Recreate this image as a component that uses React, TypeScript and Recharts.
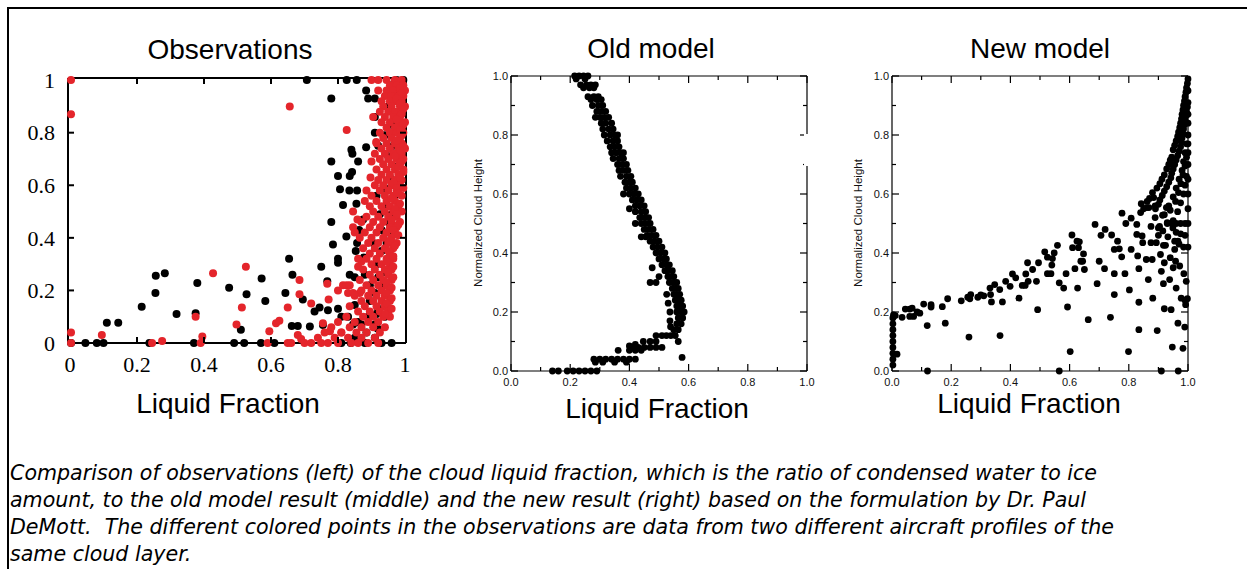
import { ScatterChart, Scatter, XAxis, YAxis } from "recharts";

type Pt = [number, number];

// observations, two aircraft profiles (liquid fraction, normalized height)
const obsBlack: Pt[] = [
  [0.707, 1.0], [0.826, 1.0], [0.856, 1.0], [0.975, 1.0], [0.995, 1.0], [0.78, 0.93], [0.884, 0.96],
  [0.89, 0.93], [0.91, 0.93], [0.91, 0.86], [0.91, 0.8], [0.884, 0.745], [0.84, 0.735], [0.843, 0.72],
  [0.78, 0.69], [0.86, 0.69], [0.8, 0.635], [0.835, 0.635], [0.842, 0.65], [0.806, 0.585], [0.834, 0.58],
  [0.857, 0.58], [0.815, 0.525], [0.855, 0.53], [0.78, 0.46], [0.875, 0.47], [0.863, 0.43], [0.785, 0.375],
  [0.825, 0.405], [0.857, 0.38], [0.853, 0.35], [0.8, 0.32], [0.8, 0.305], [0.877, 0.325], [0.654, 0.32],
  [0.664, 0.26], [0.75, 0.29], [0.768, 0.235], [0.835, 0.26], [0.85, 0.25], [0.88, 0.26], [0.643, 0.19],
  [0.695, 0.165], [0.73, 0.12], [0.745, 0.135], [0.77, 0.125], [0.8, 0.13], [0.85, 0.145], [0.662, 0.065],
  [0.68, 0.065], [0.716, 0.063], [0.755, 0.068], [0.81, 0.1], [0.83, 0.1], [0.845, 0.07], [0.86, 0.08],
  [0.81, 0.0], [0.838, 0.0], [0.85, 0.02], [0.915, 0.11], [0.918, 0.055],
  [0.003, 0], [0.046, 0], [0.08, 0], [0.1, 0], [0.11, 0.077], [0.144, 0.077], [0.214, 0.138], [0.255, 0.19],
  [0.256, 0.256], [0.283, 0.265], [0.318, 0.11], [0.375, 0.113], [0.38, 0.228], [0.37, 0], [0.237, 0],
  [0.475, 0.21], [0.49, 0], [0.51, 0.05], [0.527, 0.185], [0.52, 0.0], [0.572, 0.245], [0.583, 0.16],
  [0.57, 0], [0.61, 0],
  [0.96, 0.98], [0.985, 0.98], [0.97, 0.95], [0.95, 0.9], [0.995, 0.9], [0.975, 0.87], [0.96, 0.83],
  [0.94, 0.79], [0.99, 0.79], [0.92, 0.75], [0.965, 0.75], [0.95, 0.71], [0.975, 0.67], [0.955, 0.63],
  [0.94, 0.59], [0.915, 0.56], [0.97, 0.56], [0.945, 0.52], [0.925, 0.49], [0.96, 0.49], [0.95, 0.46],
  [0.93, 0.43], [0.96, 0.41], [0.905, 0.38], [0.945, 0.38], [0.93, 0.35], [0.955, 0.33], [0.915, 0.3],
  [0.94, 0.27], [0.92, 0.25], [0.895, 0.22], [0.935, 0.22], [0.91, 0.19], [0.895, 0.16], [0.92, 0.13],
  [0.89, 0.1], [0.94, 0.1], [0.87, 0.07], [0.91, 0.07], [0.885, 0.04], [0.88, 0.0], [0.93, 0.0],
  [0.96, 0.0], [0.91, 0.02],
];

const obsRed: Pt[] = [
  [0.003, 1.0], [0.003, 0.87], [0.003, 0.04], [0.003, 0.0], [0.095, 0.03], [0.245, 0.0], [0.275, 0.008],
  [0.375, 0.1], [0.395, 0.025], [0.39, 0], [0.427, 0.265], [0.525, 0.29], [0.513, 0.135], [0.497, 0.07],
  [0.595, 0.045], [0.59, 0], [0.615, 0.075], [0.625, 0.085], [0.656, 0.9], [0.826, 0.81], [0.65, 0.135],
  [0.685, 0.24], [0.685, 0.185], [0.72, 0.15], [0.65, 0.0], [0.66, 0.0], [0.68, 0.03], [0.69, 0.015],
  [0.768, 0.225], [0.772, 0.165], [0.776, 0.045], [0.755, 0.075], [0.81, 0.04], [0.815, 0.22],
  [0.826, 0.22], [0.8, 0.2], [0.83, 0.19], [0.845, 0.19], [0.865, 0.19], [0.845, 0.5], [0.858, 0.47],
  [0.845, 0.44], [0.85, 0.42], [0.86, 0.29], [0.87, 0.31], [0.9, 0.69], [0.897, 0.63], [0.91, 0.72],
  [0.914, 0.765], [0.92, 0.96],
  [0.9, 1.0], [0.92, 1.0], [0.945, 1.0], [0.97, 1.0], [0.99, 1.0],
  [0.955, 0.98], [0.975, 0.98], [0.995, 0.98],
  [0.945, 0.96], [0.965, 0.96], [0.985, 0.96], [1.0, 0.96],
  [0.94, 0.94], [0.96, 0.94], [0.98, 0.94], [0.995, 0.94],
  [0.93, 0.92], [0.955, 0.92], [0.975, 0.92], [0.99, 0.92],
  [0.935, 0.9], [0.96, 0.9], [0.985, 0.9], [1.0, 0.9],
  [0.925, 0.88], [0.95, 0.88], [0.97, 0.88], [0.99, 0.88],
  [0.905, 0.86], [0.94, 0.86], [0.965, 0.86], [0.985, 0.86],
  [0.93, 0.84], [0.955, 0.84], [0.98, 0.84], [1.0, 0.84],
  [0.945, 0.82], [0.97, 0.82], [0.99, 0.82],
  [0.925, 0.8], [0.955, 0.8], [0.975, 0.8], [0.995, 0.8],
  [0.935, 0.78], [0.96, 0.78], [0.985, 0.78],
  [0.915, 0.76], [0.945, 0.76], [0.97, 0.76], [0.99, 0.76],
  [0.93, 0.74], [0.955, 0.74], [0.98, 0.74], [1.0, 0.74],
  [0.94, 0.72], [0.965, 0.72], [0.99, 0.72],
  [0.925, 0.7], [0.95, 0.7], [0.975, 0.7], [0.995, 0.7],
  [0.935, 0.68], [0.96, 0.68], [0.985, 0.68],
  [0.915, 0.66], [0.945, 0.66], [0.97, 0.66], [0.995, 0.66],
  [0.93, 0.64], [0.955, 0.64], [0.98, 0.64],
  [0.92, 0.62], [0.945, 0.62], [0.97, 0.62], [0.99, 0.62],
  [0.91, 0.6], [0.935, 0.6], [0.96, 0.6], [0.985, 0.6],
  [0.885, 0.58], [0.925, 0.58], [0.95, 0.58], [0.975, 0.58],
  [0.9, 0.56], [0.94, 0.56], [0.965, 0.56], [0.99, 0.56],
  [0.88, 0.54], [0.915, 0.54], [0.945, 0.54], [0.97, 0.54],
  [0.895, 0.52], [0.93, 0.52], [0.955, 0.52], [0.98, 0.52],
  [0.905, 0.5], [0.94, 0.5], [0.965, 0.5], [0.99, 0.5],
  [0.885, 0.48], [0.92, 0.48], [0.95, 0.48], [0.975, 0.48],
  [0.87, 0.46], [0.905, 0.46], [0.935, 0.46], [0.96, 0.46], [0.985, 0.46],
  [0.895, 0.44], [0.925, 0.44], [0.955, 0.44], [0.975, 0.44],
  [0.88, 0.42], [0.915, 0.42], [0.945, 0.42], [0.97, 0.42],
  [0.865, 0.4], [0.9, 0.4], [0.935, 0.4], [0.96, 0.4],
  [0.89, 0.38], [0.92, 0.38], [0.95, 0.38], [0.975, 0.38],
  [0.875, 0.36], [0.91, 0.36], [0.94, 0.36], [0.965, 0.36],
  [0.895, 0.34], [0.925, 0.34], [0.955, 0.34],
  [0.86, 0.32], [0.885, 0.32], [0.915, 0.32], [0.945, 0.32], [0.965, 0.32],
  [0.9, 0.3], [0.93, 0.3], [0.955, 0.3],
  [0.875, 0.28], [0.91, 0.28], [0.94, 0.28], [0.96, 0.28],
  [0.895, 0.26], [0.925, 0.26], [0.95, 0.26],
  [0.865, 0.24], [0.905, 0.24], [0.935, 0.24], [0.96, 0.24],
  [0.835, 0.22], [0.885, 0.22], [0.92, 0.22], [0.945, 0.22],
  [0.87, 0.2], [0.9, 0.2], [0.93, 0.2], [0.955, 0.2],
  [0.85, 0.18], [0.89, 0.18], [0.915, 0.18], [0.94, 0.18],
  [0.87, 0.16], [0.905, 0.16], [0.93, 0.16], [0.955, 0.16],
  [0.835, 0.14], [0.88, 0.14], [0.915, 0.14], [0.94, 0.14],
  [0.86, 0.12], [0.895, 0.12], [0.925, 0.12], [0.95, 0.12],
  [0.825, 0.1], [0.875, 0.1], [0.905, 0.1], [0.935, 0.1], [0.955, 0.1],
  [0.8, 0.08], [0.85, 0.08], [0.89, 0.08], [0.92, 0.08],
  [0.78, 0.06], [0.835, 0.06], [0.87, 0.06], [0.905, 0.06], [0.94, 0.06],
  [0.76, 0.04], [0.81, 0.04], [0.855, 0.04], [0.885, 0.04], [0.925, 0.04],
  [0.74, 0.02], [0.79, 0.02], [0.83, 0.02], [0.87, 0.02], [0.91, 0.02],
  [0.7, 0.0], [0.72, 0.0], [0.75, 0.0], [0.77, 0.0], [0.8, 0.0], [0.84, 0.0], [0.86, 0.0], [0.89, 0.0], [0.92, 0.0],
  [0.985, 0.97], [0.99, 0.95], [0.975, 0.93], [0.985, 0.91], [0.995, 0.89], [0.99, 0.87], [0.975, 0.85],
  [0.995, 0.83], [0.985, 0.81], [0.99, 0.79], [0.975, 0.77], [0.995, 0.75], [0.985, 0.73], [0.97, 0.71],
  [0.99, 0.69], [0.98, 0.67], [0.995, 0.65], [0.985, 0.63], [0.965, 0.61], [0.975, 0.59], [0.995, 0.59],
  [0.98, 0.57], [0.96, 0.55], [0.985, 0.53], [0.97, 0.51], [0.975, 0.49], [0.96, 0.47], [0.98, 0.45],
  [0.965, 0.43], [0.98, 0.41], [0.955, 0.39], [0.97, 0.37], [0.95, 0.35], [0.965, 0.33], [0.945, 0.31],
  [0.965, 0.29], [0.95, 0.27], [0.965, 0.25], [0.945, 0.23], [0.96, 0.21], [0.945, 0.19], [0.96, 0.17],
  [0.945, 0.15], [0.96, 0.13], [0.94, 0.11],
];

// old model profile
const oldModel: Pt[] = [
  [0.215, 1.0], [0.23, 1.0], [0.245, 1.0], [0.26, 1.0], [0.22, 0.99], [0.25, 0.99],
  [0.235, 0.97], [0.255, 0.97], [0.27, 0.97], [0.285, 0.97], [0.245, 0.96], [0.265, 0.96], [0.28, 0.96],
  [0.26, 0.93], [0.28, 0.93], [0.295, 0.93], [0.27, 0.92], [0.29, 0.92], [0.305, 0.92],
  [0.275, 0.9], [0.295, 0.9], [0.31, 0.9], [0.29, 0.88], [0.305, 0.88], [0.32, 0.88],
  [0.285, 0.86], [0.3, 0.86], [0.315, 0.86], [0.33, 0.86], [0.305, 0.84], [0.32, 0.84], [0.34, 0.84],
  [0.31, 0.82], [0.33, 0.82], [0.345, 0.82], [0.315, 0.8], [0.335, 0.8], [0.35, 0.8], [0.36, 0.8],
  [0.325, 0.78], [0.345, 0.78], [0.36, 0.78], [0.335, 0.76], [0.35, 0.76], [0.365, 0.76],
  [0.34, 0.74], [0.355, 0.74], [0.37, 0.74], [0.38, 0.74], [0.345, 0.72], [0.365, 0.72], [0.38, 0.72],
  [0.36, 0.7], [0.375, 0.7], [0.39, 0.7], [0.365, 0.68], [0.38, 0.68], [0.395, 0.68],
  [0.37, 0.66], [0.39, 0.66], [0.405, 0.66], [0.385, 0.64], [0.4, 0.64], [0.41, 0.64],
  [0.39, 0.62], [0.405, 0.62], [0.42, 0.62], [0.38, 0.6], [0.4, 0.6], [0.415, 0.6], [0.43, 0.6],
  [0.41, 0.58], [0.425, 0.58], [0.44, 0.58], [0.42, 0.56], [0.435, 0.56], [0.45, 0.56],
  [0.4, 0.55], [0.42, 0.54], [0.44, 0.54], [0.455, 0.54], [0.435, 0.52], [0.45, 0.52], [0.465, 0.52],
  [0.42, 0.5], [0.44, 0.5], [0.455, 0.5], [0.47, 0.5], [0.45, 0.48], [0.465, 0.48], [0.48, 0.48],
  [0.44, 0.455], [0.455, 0.455], [0.46, 0.46], [0.475, 0.46], [0.49, 0.46], [0.47, 0.44], [0.485, 0.44],
  [0.5, 0.44], [0.48, 0.42], [0.495, 0.42], [0.51, 0.42], [0.49, 0.4], [0.505, 0.4], [0.52, 0.4],
  [0.5, 0.38], [0.515, 0.38], [0.525, 0.38], [0.51, 0.36], [0.525, 0.36], [0.535, 0.36],
  [0.477, 0.35], [0.52, 0.34], [0.53, 0.34], [0.545, 0.34], [0.5, 0.32], [0.53, 0.32], [0.54, 0.32],
  [0.55, 0.32], [0.47, 0.3], [0.49, 0.3], [0.535, 0.3], [0.55, 0.3], [0.56, 0.3],
  [0.545, 0.28], [0.555, 0.28], [0.565, 0.28], [0.526, 0.26], [0.55, 0.26], [0.56, 0.26], [0.57, 0.26],
  [0.555, 0.24], [0.565, 0.24], [0.575, 0.24], [0.531, 0.23], [0.56, 0.22], [0.57, 0.22], [0.58, 0.22],
  [0.537, 0.2], [0.56, 0.2], [0.575, 0.2], [0.585, 0.2], [0.565, 0.18], [0.58, 0.18], [0.537, 0.17],
  [0.56, 0.16], [0.575, 0.16], [0.539, 0.15], [0.55, 0.14], [0.565, 0.14],
  [0.49, 0.12], [0.51, 0.12], [0.525, 0.12], [0.54, 0.12], [0.555, 0.12],
  [0.47, 0.1], [0.49, 0.1], [0.447, 0.1], [0.565, 0.1], [0.42, 0.09], [0.4, 0.085],
  [0.41, 0.08], [0.43, 0.08], [0.45, 0.08], [0.47, 0.08], [0.49, 0.08], [0.51, 0.08],
  [0.362, 0.07], [0.4, 0.07], [0.42, 0.07], [0.44, 0.07], [0.578, 0.046],
  [0.28, 0.04], [0.3, 0.04], [0.32, 0.04], [0.34, 0.04], [0.36, 0.04], [0.38, 0.04], [0.4, 0.04], [0.42, 0.04],
  [0.285, 0.03], [0.31, 0.03], [0.35, 0.03], [0.39, 0.03],
  [0.14, 0.0], [0.16, 0.0], [0.19, 0.0], [0.21, 0.0], [0.23, 0.0], [0.25, 0.0], [0.27, 0.0], [0.29, 0.0],
];

// new model profile
const newModel: Pt[] = [
  [0.003, 0.02], [0.003, 0.04], [0.003, 0.06], [0.003, 0.08], [0.003, 0.1], [0.003, 0.12], [0.003, 0.14],
  [0.003, 0.16], [0.003, 0.18], [0.005, 0.19], [0.017, 0.057],
  [0.011, 0.188], [0.034, 0.182], [0.045, 0.21], [0.06, 0.21], [0.068, 0.213], [0.06, 0.185], [0.073, 0.185],
  [0.085, 0.2], [0.094, 0.196], [0.107, 0.227], [0.132, 0.225], [0.132, 0.217], [0.17, 0.218], [0.188, 0.245],
  [0.119, 0.154], [0.18, 0.162], [0.234, 0.238], [0.256, 0.25], [0.266, 0.259], [0.263, 0.245], [0.29, 0.25],
  [0.3, 0.258], [0.31, 0.255], [0.26, 0.115], [0.336, 0.234], [0.333, 0.259], [0.331, 0.281], [0.347, 0.293],
  [0.364, 0.276], [0.373, 0.234], [0.365, 0.12], [0.384, 0.304], [0.399, 0.287], [0.407, 0.329], [0.418, 0.316],
  [0.429, 0.247], [0.44, 0.29], [0.45, 0.29], [0.452, 0.329], [0.46, 0.304], [0.458, 0.367], [0.475, 0.344],
  [0.488, 0.304], [0.492, 0.208], [0.495, 0.367], [0.516, 0.404], [0.525, 0.386], [0.525, 0.33], [0.537, 0.33],
  [0.54, 0.359], [0.542, 0.381], [0.559, 0.426], [0.548, 0.4], [0.565, 0.299], [0.58, 0.281], [0.588, 0.33],
  [0.593, 0.217], [0.602, 0.066], [0.608, 0.461], [0.61, 0.418], [0.618, 0.347], [0.625, 0.44], [0.633, 0.438],
  [0.627, 0.281], [0.63, 0.418], [0.638, 0.372], [0.644, 0.372], [0.647, 0.397], [0.65, 0.344], [0.663, 0.174],
  [0.686, 0.497], [0.693, 0.296], [0.7, 0.372], [0.706, 0.46], [0.718, 0.347], [0.72, 0.48], [0.742, 0.461],
  [0.751, 0.412], [0.751, 0.33], [0.751, 0.259], [0.762, 0.44], [0.768, 0.414], [0.776, 0.387], [0.738, 0.182],
  [0.777, 0.535], [0.787, 0.33], [0.79, 0.5], [0.802, 0.275], [0.808, 0.518], [0.808, 0.412], [0.799, 0.066],
  [0.827, 0.497], [0.827, 0.463], [0.83, 0.39], [0.834, 0.347], [0.842, 0.567], [0.84, 0.537], [0.845, 0.458],
  [0.847, 0.435], [0.834, 0.233], [0.834, 0.14], [0.859, 0.378], [0.861, 0.554], [0.868, 0.554], [0.866, 0.31],
  [0.875, 0.49], [0.875, 0.435], [0.879, 0.378], [0.884, 0.588], [0.881, 0.247], [0.889, 0.56], [0.889, 0.52],
  [0.893, 0.435], [0.896, 0.137], [0.9, 0.485], [0.9, 0.46], [0.904, 0.49], [0.907, 0.395], [0.91, 0.338],
  [0.914, 0.528], [0.915, 0.475], [0.917, 0.426], [0.924, 0.426], [0.917, 0.296], [0.92, 0.367], [0.92, 0.211],
  [0.927, 0.554], [0.93, 0.503], [0.932, 0.455], [0.938, 0.31], [0.94, 0.384], [0.943, 0.208], [0.947, 0.081],
  [0.949, 0.485], [0.95, 0.35], [0.955, 0.412], [0.958, 0.372], [0.96, 0.281], [0.966, 0.162], [0.966, 0.44],
  [0.972, 0.356], [0.977, 0.247], [0.983, 0.077], [0.986, 0.33], [0.989, 0.149], [0.992, 0.225], [0.994, 0.304],
  [0.998, 0.245],
  [0.85, 0.55], [0.862, 0.575], [0.88, 0.605], [0.905, 0.635], [0.92, 0.665], [0.935, 0.7], [0.945, 0.725],
  [0.95, 0.75], [0.96, 0.78], [0.968, 0.81], [0.975, 0.84], [0.98, 0.87], [0.985, 0.9], [0.99, 0.93],
  [0.995, 0.96], [1.0, 0.99],
  [0.89, 0.55], [0.905, 0.58], [0.92, 0.61], [0.935, 0.64], [0.945, 0.67], [0.955, 0.7], [0.965, 0.73],
  [0.975, 0.76], [0.98, 0.79], [0.985, 0.82], [0.99, 0.85], [0.995, 0.88], [1.0, 0.91], [1.0, 0.95],
  [0.92, 0.53], [0.935, 0.56], [0.95, 0.59], [0.96, 0.62], [0.97, 0.65], [0.98, 0.68], [0.985, 0.71],
  [0.99, 0.74], [0.995, 0.77], [1.0, 0.8], [1.0, 0.84], [1.0, 0.87],
  [0.95, 0.51], [0.965, 0.54], [0.975, 0.57], [0.985, 0.6], [0.99, 0.63], [0.995, 0.66], [1.0, 0.7], [1.0, 0.74],
  [0.93, 0.5], [0.945, 0.5], [0.96, 0.5], [0.975, 0.5], [0.99, 0.5], [1.0, 0.5],
  [0.96, 0.47], [0.975, 0.465], [0.99, 0.46], [0.955, 0.44], [0.97, 0.43], [0.985, 0.42], [1.0, 0.42],
  [1.0, 0.55], [1.0, 0.6], [1.0, 0.65], [0.99, 0.24],
  [0.87, 0.585], [0.895, 0.62], [0.912, 0.65], [0.928, 0.685], [0.94, 0.715], [0.955, 0.765], [0.965, 0.795],
  [0.972, 0.825], [0.978, 0.855], [0.983, 0.885], [0.988, 0.915], [0.993, 0.945], [0.998, 0.975],
  [0.9, 0.565], [0.913, 0.595], [0.928, 0.625], [0.942, 0.655], [0.95, 0.685], [0.96, 0.715], [0.97, 0.745],
  [0.978, 0.775], [0.983, 0.805], [0.988, 0.835], [0.993, 0.865], [0.998, 0.895],
  [0.94, 0.545], [0.958, 0.575], [0.968, 0.605], [0.976, 0.635], [0.983, 0.665], [0.99, 0.695], [0.995, 0.725],
  [1.0, 0.77],
  [0.12, 0.0], [0.565, 0.0], [0.91, 0.0], [0.967, 0.0],
];

const obsTicks = [0, 0.2, 0.4, 0.6, 0.8, 1];
const modelTicks = [0, 0.1, 0.2, 0.3, 0.4, 0.5, 0.6, 0.7, 0.8, 0.9, 1];

const caption = [
  "Comparison of observations (left) of the cloud liquid fraction, which is the ratio of condensed water to ice",
  "amount, to the old model result (middle) and the new result (right) based on the formulation by Dr. Paul",
  "DeMott.  The different colored points in the observations are data from two different aircraft profiles of the",
  "same cloud layer.",
];

const rows = (pts: Pt[]) => pts.map(([x, y]) => ({ x, y }));
const dot = (r: number, fill: string) => (p: any) => <circle cx={p.cx} cy={p.cy} r={r} fill={fill} />;

const SANS = "'Liberation Sans', Arial, Helvetica, sans-serif";

type Box = { left: number; right: number; top: number; bottom: number };
type TickStyle = {
  font: Record<string, any>;
  sw: number;
  len: (v: number) => number;
  label: (v: number) => string | null;
};

// draws inward tick marks on both opposite sides plus the label
const yTick = (box: Box, s: TickStyle, gap: number) => (p: any) => {
  const v = p.payload.value as number;
  const y = p.y as number;
  const L = s.len(v);
  const t = s.label(v);
  return (
    <g>
      {L > 0 && <line x1={box.left} x2={box.left + L} y1={y} y2={y} stroke="#000" strokeWidth={s.sw} />}
      {L > 0 && <line x1={box.right - L} x2={box.right} y1={y} y2={y} stroke="#000" strokeWidth={s.sw} />}
      {t !== null && (
        <text x={box.left - gap} y={y} dy="0.355em" textAnchor="end" {...s.font}>{t}</text>
      )}
    </g>
  );
};

const xTick = (box: Box, s: TickStyle, gap: number) => (p: any) => {
  const v = p.payload.value as number;
  const x = p.x as number;
  const L = s.len(v);
  const t = s.label(v);
  return (
    <g>
      {L > 0 && <line x1={x} x2={x} y1={box.bottom} y2={box.bottom - L} stroke="#000" strokeWidth={s.sw} />}
      {L > 0 && <line x1={x} x2={x} y1={box.top} y2={box.top + L} stroke="#000" strokeWidth={s.sw} />}
      {t !== null && (
        <text x={x} y={box.bottom + gap} dy="0.71em" textAnchor="middle" {...s.font}>{t}</text>
      )}
    </g>
  );
};

function ObsPanel() {
  const W = 420, H = 430;
  const m = { top: 78, right: 14, bottom: 86, left: 67 };
  const box: Box = { left: m.left + 1, right: W - m.right, top: m.top, bottom: H - m.bottom - 1 };
  const line = { stroke: "#000", strokeWidth: 2 };
  const s: TickStyle = {
    font: { fontFamily: "'Liberation Serif', 'Times New Roman', serif", fontSize: 22, fill: "#000" },
    sw: 2,
    len: (v) => (v > 0 && v < 1 ? 6 : 0),
    label: (v) => String(v),
  };
  const xd: [number, number] = [-0.006, 1.003];
  const yd: [number, number] = [0, 1.008];
  return (
    <div style={{ position: "absolute", left: 0, top: 0 }}>
      <ScatterChart width={W} height={H} margin={m}>
        <XAxis xAxisId="b" type="number" dataKey="x" domain={xd} ticks={obsTicks} interval={0}
          tick={xTick(box, s, 13)} tickSize={0} tickMargin={13} axisLine={line} tickLine={false} height={1} />
        <YAxis yAxisId="l" type="number" dataKey="y" domain={yd} ticks={obsTicks} interval={0}
          tick={yTick(box, s, 13)} tickSize={0} tickMargin={13} axisLine={line} tickLine={false} width={1} />
        <XAxis xAxisId="t" mirror orientation="top" type="number" domain={xd} tick={false}
          axisLine={line} tickLine={false} height={1} allowDataOverflow />
        <YAxis yAxisId="r" mirror orientation="right" type="number" domain={yd} tick={false}
          axisLine={line} tickLine={false} width={1} allowDataOverflow />
        <Scatter xAxisId="b" yAxisId="l" data={rows(obsBlack)} shape={dot(4, "#000")} isAnimationActive={false} />
        <Scatter xAxisId="b" yAxisId="l" data={rows(obsRed)} shape={dot(4, "#e4252b")} isAnimationActive={false} />
      </ScatterChart>
    </div>
  );
}

function ModelPanel({ left, marginLeft, marginRight, data }: { left: number; marginLeft: number; marginRight: number; data: Pt[] }) {
  const W = 400, H = 430;
  const m = { top: 76, right: marginRight, bottom: 58, left: marginLeft };
  const box: Box = { left: m.left + 1, right: W - m.right, top: m.top, bottom: H - m.bottom - 1 };
  const line = { stroke: "#000", strokeWidth: 1.2 };
  const even = (v: number) => Math.round(v * 10) % 2 === 0;
  const s: TickStyle = {
    font: { fontFamily: SANS, fontSize: 11, fill: "#111" },
    sw: 1.2,
    len: (v) => (even(v) ? 7 : 4),
    label: (v) => (even(v) ? v.toFixed(1) : null),
  };
  const d: [number, number] = [0, 1];
  return (
    <div style={{ position: "absolute", left, top: 0 }}>
      <ScatterChart width={W} height={H} margin={m}>
        <XAxis xAxisId="b" type="number" dataKey="x" domain={d} ticks={modelTicks} interval={0}
          tick={xTick(box, s, 7)} tickSize={0} tickMargin={7} axisLine={line} tickLine={false} height={1} />
        <YAxis yAxisId="l" type="number" dataKey="y" domain={d} ticks={modelTicks} interval={0}
          tick={yTick(box, s, 3)} tickSize={0} tickMargin={3} axisLine={line} tickLine={false} width={1} />
        <XAxis xAxisId="t" mirror orientation="top" type="number" domain={d} tick={false}
          axisLine={line} tickLine={false} height={1} allowDataOverflow />
        <YAxis yAxisId="r" mirror orientation="right" type="number" domain={d} tick={false}
          axisLine={line} tickLine={false} width={1} allowDataOverflow />
        <Scatter xAxisId="b" yAxisId="l" data={rows(data)} shape={dot(3.4, "#000")} isAnimationActive={false} />
      </ScatterChart>
    </div>
  );
}

export default function App() {
  return (
    <div style={{ position: "absolute", left: 0, top: 0, width: 1247, height: 569, background: "#fff", overflow: "hidden" }}>
      <div style={{ position: "absolute", left: 7, top: 7, width: 1250, height: 570, borderTop: "2.5px solid #000", borderLeft: "2.5px solid #000" }} />
      <ObsPanel />
      <ModelPanel left={440} marginLeft={70} marginRight={33} data={oldModel} />
      <ModelPanel left={830} marginLeft={61} marginRight={42} data={newModel} />
      <svg width={1247} height={569} style={{ position: "absolute", left: 0, top: 0, pointerEvents: "none" }}>
        <rect x={804} y={134} width={6} height={32} fill="#fff" />
        <g fontFamily={SANS} fontSize={28} fill="#000" textAnchor="middle">
          <text x={230} y={59}>Observations</text>
          <text x={651} y={58}>Old model</text>
          <text x={1040} y={58}>New model</text>
          <text x={228} y={413}>Liquid Fraction</text>
          <text x={657} y={418}>Liquid Fraction</text>
          <text x={1029} y={413}>Liquid Fraction</text>
        </g>
        <g fontFamily={SANS} fontSize={11.5} fill="#111" textAnchor="middle">
          <text x={482} y={223} transform="rotate(-90 482 223)">Normalized Cloud Height</text>
          <text x={862} y={223} transform="rotate(-90 862 223)">Normalized Cloud Height</text>
        </g>
      </svg>
      <div style={{ position: "absolute", left: 10, top: 460, fontFamily: "'DejaVu Sans', Verdana, sans-serif", fontStyle: "italic", fontSize: 20.6, lineHeight: "27px", color: "#000", whiteSpace: "pre" }}>
        {caption.map((c) => (
          <div key={c}>{c}</div>
        ))}
      </div>
    </div>
  );
}
